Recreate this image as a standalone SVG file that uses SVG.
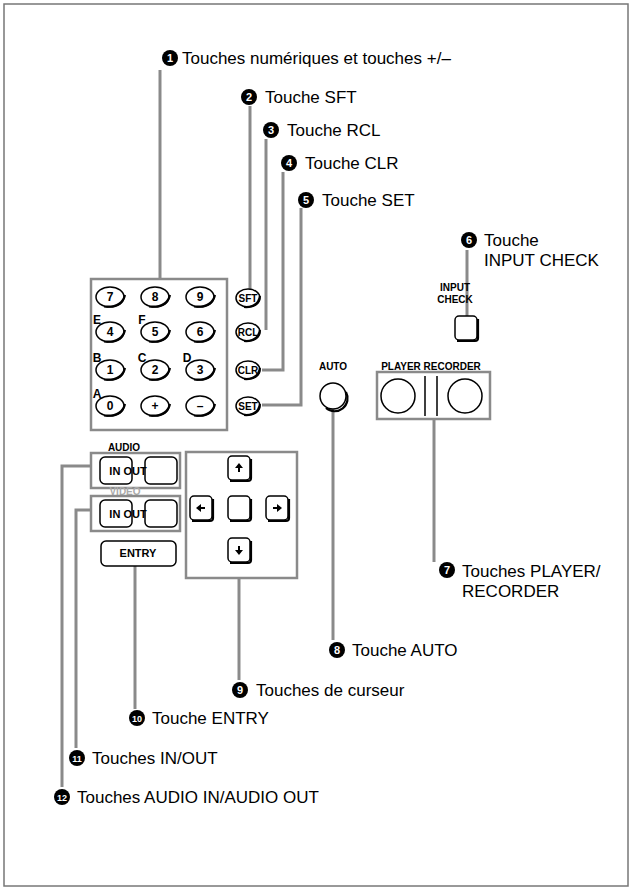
<svg xmlns="http://www.w3.org/2000/svg" width="632" height="890" viewBox="0 0 632 890">
<defs>
<style>
text{font-family:"Liberation Sans",Arial,sans-serif;fill:#000}
.lbl{font-size:17px}
.num{font-size:11px;font-weight:bold;fill:#fff;text-anchor:middle}
.k{font-size:12px;text-anchor:middle;font-weight:bold}
.s{font-size:10px;text-anchor:middle;font-weight:bold}
.ln{fill:none;stroke:#8a8a8a;stroke-width:3}
.box{fill:none;stroke:#8a8a8a;stroke-width:2.5}
.key{fill:#fff;stroke:#000;stroke-width:1.5}
.sh{fill:none;stroke:#000;stroke-width:2.2}
.dot{fill:#8a8a8a}
</style>
<g id="k"><ellipse class="key" cx="0" cy="0" rx="14" ry="10"/><path class="sh" d="M-6,9.5 Q12,11 15,-2"/></g>
<g id="sk"><ellipse class="key" cx="0" cy="0" rx="12" ry="9"/><path class="sh" d="M-4,9 Q10,10 12,-2"/></g>
<g id="rk"><rect class="key" x="-11" y="-12" width="22" height="24" rx="4"/><path class="sh" d="M-9,13 H9 Q12,13 12,10 V-9"/></g>
</defs>
<rect x="4" y="4" width="624" height="882" fill="#fff" stroke="#777" stroke-width="1.5"/>
<g id="connectors">
<path class="ln" d="M160,279 V70"/>
<path class="ln" d="M250,292 V106"/>
<path class="ln" d="M266,330 V139"/>
<path class="ln" d="M262,370 H283 V172"/>
<path class="ln" d="M262,405 H301 V208"/>
<path class="ln" d="M467,328 V250"/>
<path class="ln" d="M333,396 V640"/>
<path class="ln" d="M434,419 V562"/>
<path class="ln" d="M239,577 V680"/>
<path class="ln" d="M135,555 V709"/>
<path class="ln" d="M90,510 H76 V748"/>
<path class="ln" d="M90,466 H62 V787"/>
<circle class="dot" cx="467" cy="328" r="3"/><circle class="dot" cx="333" cy="396" r="3"/>
</g>
<g id="labels">
<circle cx="170" cy="58" r="8"/><text class="num" x="170" y="62">1</text><text class="lbl" x="182" y="64">Touches numériques et touches +/–</text>
<circle cx="249" cy="97" r="8"/><text class="num" x="249" y="101">2</text><text class="lbl" x="265" y="103">Touche SFT</text>
<circle cx="271" cy="130" r="8"/><text class="num" x="271" y="134">3</text><text class="lbl" x="287" y="136">Touche RCL</text>
<circle cx="289" cy="163" r="8"/><text class="num" x="289" y="167">4</text><text class="lbl" x="305" y="169">Touche CLR</text>
<circle cx="306" cy="200" r="8"/><text class="num" x="306" y="204">5</text><text class="lbl" x="322" y="206">Touche SET</text>
<circle cx="469" cy="240" r="8"/><text class="num" x="469" y="244">6</text><text class="lbl" x="484" y="246">Touche</text><text class="lbl" x="484" y="266">INPUT CHECK</text>
<circle cx="447" cy="570" r="8"/><text class="num" x="447" y="574">7</text><text class="lbl" x="462" y="577">Touches PLAYER/</text><text class="lbl" x="462" y="597">RECORDER</text>
<circle cx="337" cy="650" r="8"/><text class="num" x="337" y="654">8</text><text class="lbl" x="352" y="656">Touche AUTO</text>
<circle cx="240" cy="690" r="8"/><text class="num" x="240" y="694">9</text><text class="lbl" x="256" y="696">Touches de curseur</text>
<circle cx="137" cy="718" r="8"/><text class="num" x="137" y="722" style="font-size:9px">10</text><text class="lbl" x="152" y="724">Touche ENTRY</text>
<circle cx="77" cy="758" r="8"/><text class="num" x="77" y="762" style="font-size:9px">11</text><text class="lbl" x="92" y="764">Touches IN/OUT</text>
<circle cx="62" cy="797" r="8"/><text class="num" x="62" y="801" style="font-size:9px">12</text><text class="lbl" x="77" y="803">Touches AUDIO IN/AUDIO OUT</text>
</g>
<g id="keypad">
<rect class="box" x="91" y="279" width="136" height="151"/>
<use href="#k" x="110" y="297"/><text class="k" x="110" y="301">7</text>
<use href="#k" x="155" y="297"/><text class="k" x="155" y="301">8</text>
<use href="#k" x="200" y="297"/><text class="k" x="200" y="301">9</text>
<use href="#k" x="110" y="332"/><text class="k" x="110" y="336">4</text>
<use href="#k" x="155" y="332"/><text class="k" x="155" y="336">5</text>
<use href="#k" x="200" y="332"/><text class="k" x="200" y="336">6</text>
<use href="#k" x="110" y="370"/><text class="k" x="110" y="374">1</text>
<use href="#k" x="155" y="370"/><text class="k" x="155" y="374">2</text>
<use href="#k" x="200" y="370"/><text class="k" x="200" y="374">3</text>
<use href="#k" x="110" y="406"/><text class="k" x="110" y="410">0</text>
<use href="#k" x="155" y="406"/><text class="k" x="155" y="410">+</text>
<use href="#k" x="200" y="406"/><text class="k" x="200" y="410">–</text>
<text class="k" x="97" y="324">E</text><text class="k" x="142" y="324">F</text>
<text class="k" x="97" y="362">B</text><text class="k" x="142" y="362">C</text><text class="k" x="187" y="362">D</text>
<text class="k" x="97" y="398">A</text>
</g>
<g id="fnkeys">
<use href="#sk" x="248" y="298"/><text class="s" x="248" y="302">SFT</text>
<use href="#sk" x="248" y="332"/><text class="s" x="248" y="336">RCL</text>
<use href="#sk" x="248" y="370"/><text class="s" x="248" y="374">CLR</text>
<use href="#sk" x="248" y="406"/><text class="s" x="248" y="410">SET</text>
</g>
<g id="inputcheck">
<text class="s" x="455" y="291">INPUT</text><text class="s" x="455" y="303">CHECK</text>
<use href="#rk" x="466" y="328"/>
</g>
<g id="auto">
<text class="s" x="333" y="370">AUTO</text>
<circle class="key" cx="333" cy="396" r="13"/><path class="sh" d="M326,408 A13,13 0 0 0 346,392"/>
</g>
<g id="playerrecorder">
<text class="s" x="431" y="370">PLAYER RECORDER</text>
<rect class="box" x="377" y="372" width="113" height="47"/>
<circle class="key" cx="398" cy="396" r="17"/><circle class="key" cx="465" cy="396" r="17"/>
<path d="M425,376 V416 M437,376 V416" stroke="#000" stroke-width="1.5"/>
</g>
<g id="audio">
<text class="s" x="124" y="451">AUDIO</text>
<rect class="box" x="91" y="453" width="89" height="35"/>
<rect class="key" x="100" y="457" width="32" height="27" rx="5"/>
<rect class="key" x="145" y="457" width="32" height="27" rx="5"/>
<text class="s" style="font-size:11px" x="128" y="475">IN OUT</text>
</g>
<g id="video">
<text class="s" x="125" y="495" style="fill:#aaa">VIDEO</text>
<rect class="box" x="91" y="496" width="89" height="35"/>
<rect class="key" x="100" y="500" width="32" height="27" rx="5"/>
<rect class="key" x="145" y="500" width="32" height="27" rx="5"/>
<text class="s" style="font-size:11px" x="128" y="518">IN OUT</text>
</g>
<g id="entry">
<rect class="key" x="101" y="541" width="75" height="25" rx="5"/>
<text class="k" style="font-size:11px" x="138" y="557">ENTRY</text>
</g>
<g id="cursor">
<rect class="box" x="186" y="452" width="111" height="126"/>
<use href="#rk" x="239" y="468"/><path d="M239,463 l-4,5 h8 z M238,468 h2 v4 h-2z"/>
<use href="#rk" x="201" y="508"/><path d="M196,508 l5,-4 v8 z M201,507 h4 v2 h-4z"/>
<use href="#rk" x="239" y="508"/>
<use href="#rk" x="277" y="508"/><path d="M282,508 l-5,-4 v8 z M273,507 h4 v2 h-4z"/>
<use href="#rk" x="239" y="550"/><path d="M239,555 l-4,-5 h8 z M238,546 h2 v4 h-2z"/>
</g>
</svg>
